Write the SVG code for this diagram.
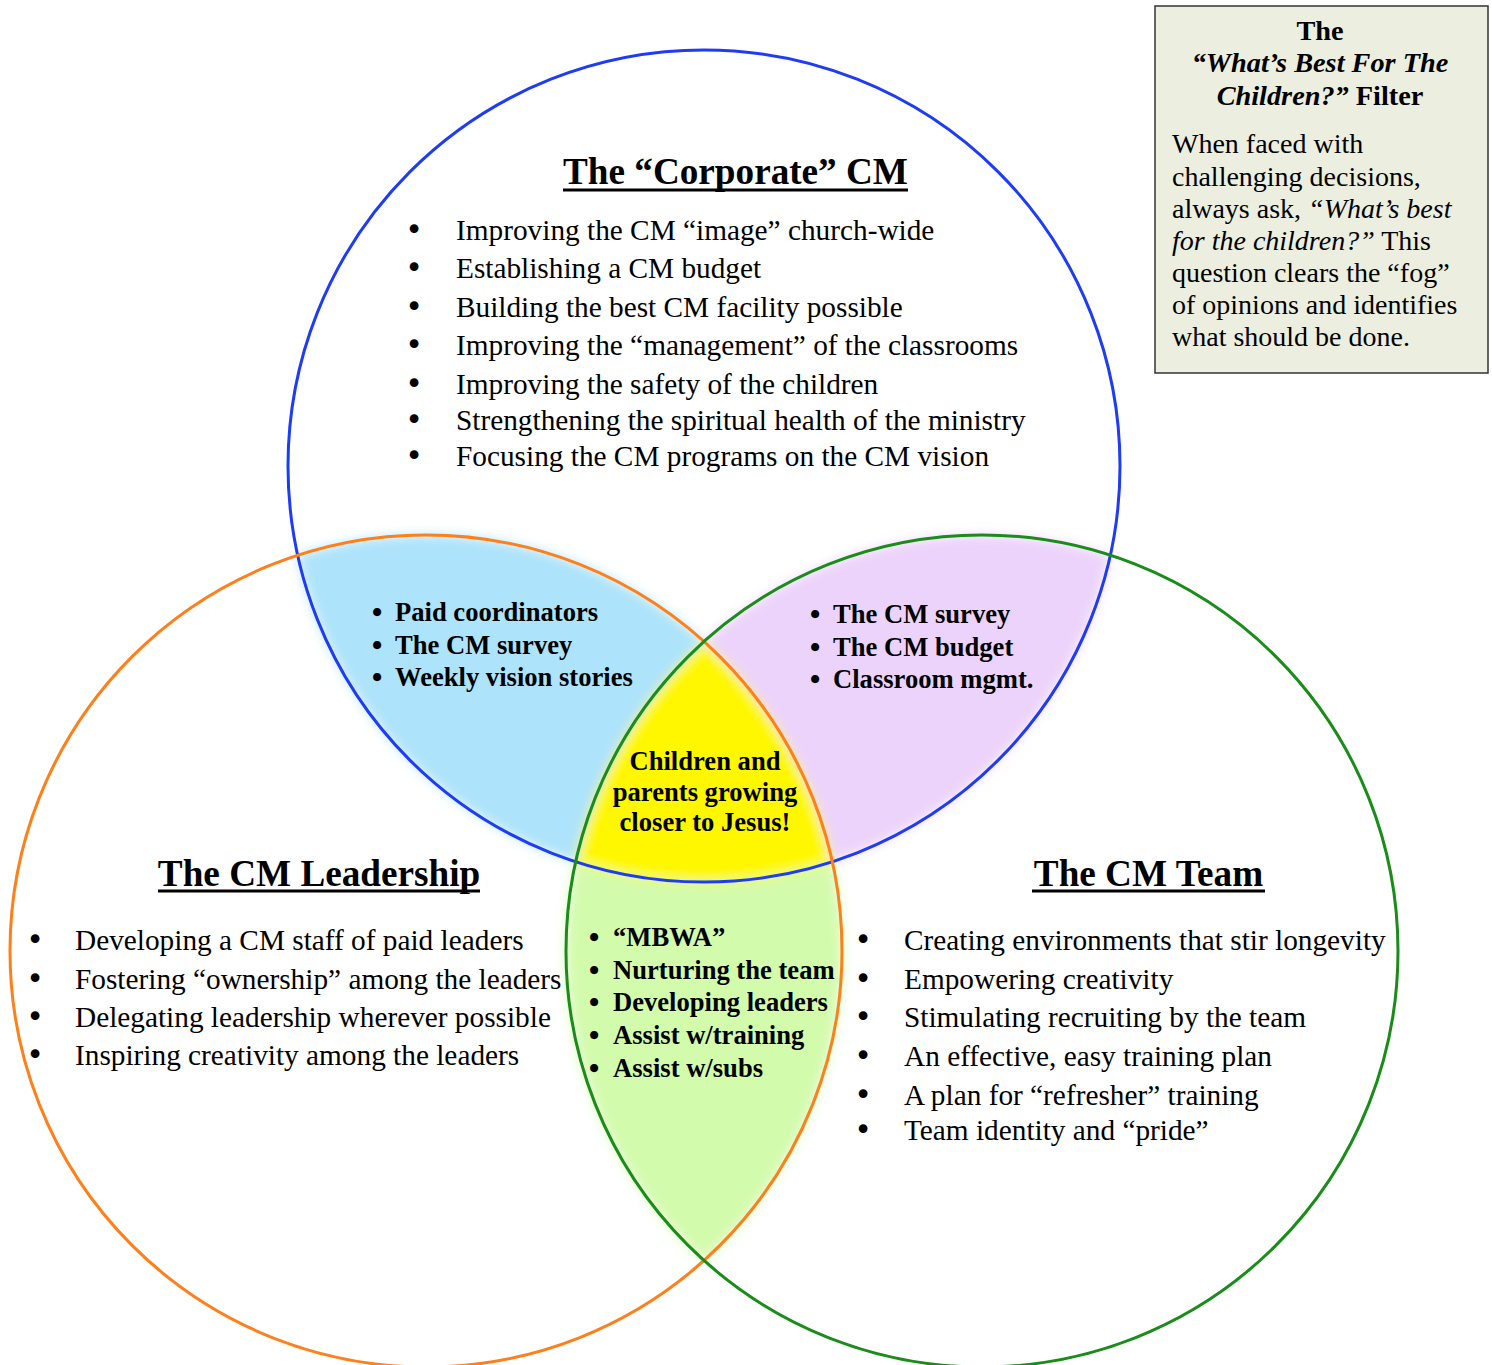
<svg xmlns="http://www.w3.org/2000/svg" width="1492" height="1365" viewBox="0 0 1492 1365">
<style>
.t{font-family:"Liberation Serif","Times New Roman",serif;fill:#000}
.h{font-size:37.2px;font-weight:bold}
.r{font-size:29.3px}
.b{font-size:26.6px;font-weight:bold}
.bl{font-family:"DejaVu Sans",sans-serif;font-size:30px}
.bb{font-family:"DejaVu Sans",sans-serif;font-size:23px;font-weight:bold}
.bt{font-size:28.3px;font-weight:bold}
.bd{font-size:28px}
.ul{stroke:#000;stroke-width:3}
.circ{fill:none;stroke-width:3}
</style>
<defs>
<filter id="soft" x="-10%" y="-10%" width="120%" height="120%">
<feGaussianBlur stdDeviation="6"/>
</filter>
</defs>
<rect width="1492" height="1365" fill="#fff"/>
<g id="regions" filter="url(#soft)">
<path id="blue-orange" fill="#ade3fb" d="M297.7 555.3 A416 416 0 0 1 704 641.5 A416 416 0 0 0 575.7 861.7 A416 416 0 0 1 297.7 555.3 Z"/>
<path id="blue-green" fill="#ecd3fb" d="M1110.3 555.3 A416 416 0 0 0 704 641.5 A416 416 0 0 1 832.3 861.7 A416 416 0 0 0 1110.3 555.3 Z"/>
<path id="center" fill="#fff700" d="M704 641.5 A416 416 0 0 0 575.7 861.7 A416 416 0 0 0 832.3 861.7 A416 416 0 0 0 704 641.5 Z"/>
<path id="orange-green" fill="#d3fbac" d="M575.7 861.7 A416 416 0 0 0 704 1260.5 A416 416 0 0 0 832.3 861.7 A416 416 0 0 1 575.7 861.7 Z"/>
</g>
<g id="circles">
<circle id="corporate-circle" class="circ" cx="704" cy="466" r="416" stroke="#1f3cf5"/>
<circle id="leadership-circle" class="circ" cx="426" cy="951" r="416" stroke="#ff7f1a"/>
<circle id="team-circle" class="circ" cx="982" cy="951" r="416" stroke="#1a8c1a"/>
</g>
<g id="corporate" class="t">
<text class="h" x="735.5" y="184" text-anchor="middle">The “Corporate” CM</text>
<line class="ul" x1="563" y1="190" x2="908" y2="190"/>
<g class="bl" text-anchor="middle">
<text x="414" y="240">•</text><text x="414" y="278">•</text><text x="414" y="317">•</text><text x="414" y="355">•</text><text x="414" y="394">•</text><text x="414" y="430">•</text><text x="414" y="466">•</text>
</g>
<g class="r">
<text x="456" y="240">Improving the CM “image” church-wide</text>
<text x="456" y="278">Establishing a CM budget</text>
<text x="456" y="317">Building the best CM facility possible</text>
<text x="456" y="355">Improving the “management” of the classrooms</text>
<text x="456" y="394">Improving the safety of the children</text>
<text x="456" y="430">Strengthening the spiritual health of the ministry</text>
<text x="456" y="466">Focusing the CM programs on the CM vision</text>
</g>
</g>
<g id="leadership" class="t">
<text class="h" x="319" y="886" text-anchor="middle">The CM Leadership</text>
<line class="ul" x1="158" y1="891" x2="480" y2="891"/>
<g class="bl" text-anchor="middle">
<text x="35" y="950">•</text><text x="35" y="989">•</text><text x="35" y="1027">•</text><text x="35" y="1065">•</text>
</g>
<g class="r">
<text x="75" y="950">Developing a CM staff of paid leaders</text>
<text x="75" y="989">Fostering “ownership” among the leaders</text>
<text x="75" y="1027">Delegating leadership wherever possible</text>
<text x="75" y="1065">Inspiring creativity among the leaders</text>
</g>
</g>
<g id="team" class="t">
<text class="h" x="1148.5" y="886" text-anchor="middle">The CM Team</text>
<line class="ul" x1="1032" y1="891" x2="1265" y2="891"/>
<g class="bl" text-anchor="middle">
<text x="863" y="950">•</text><text x="863" y="989">•</text><text x="863" y="1027">•</text><text x="863" y="1066">•</text><text x="863" y="1105">•</text><text x="863" y="1140">•</text>
</g>
<g class="r">
<text x="904" y="950">Creating environments that stir longevity</text>
<text x="904" y="989">Empowering creativity</text>
<text x="904" y="1027">Stimulating recruiting by the team</text>
<text x="904" y="1066">An effective, easy training plan</text>
<text x="904" y="1105">A plan for “refresher” training</text>
<text x="904" y="1140">Team identity and “pride”</text>
</g>
</g>
<g id="corporate-leadership" class="t">
<g class="bb" text-anchor="middle">
<text x="377" y="621">•</text><text x="377" y="654">•</text><text x="377" y="686">•</text>
</g>
<g class="b">
<text x="395" y="621">Paid coordinators</text>
<text x="395" y="654">The CM survey</text>
<text x="395" y="686">Weekly vision stories</text>
</g>
</g>
<g id="corporate-team" class="t">
<g class="bb" text-anchor="middle">
<text x="815" y="623">•</text><text x="815" y="656">•</text><text x="815" y="688">•</text>
</g>
<g class="b">
<text x="833" y="623">The CM survey</text>
<text x="833" y="656">The CM budget</text>
<text x="833" y="688">Classroom mgmt.</text>
</g>
</g>
<g id="center-text" class="t b" text-anchor="middle">
<text x="705" y="770">Children and</text>
<text x="705" y="801">parents growing</text>
<text x="705" y="831">closer to Jesus!</text>
</g>
<g id="leadership-team" class="t">
<g class="bb" text-anchor="middle">
<text x="594" y="946">•</text><text x="594" y="979">•</text><text x="594" y="1011">•</text><text x="594" y="1044">•</text><text x="594" y="1077">•</text>
</g>
<g class="b">
<text x="613" y="946">“MBWA”</text>
<text x="613" y="979">Nurturing the team</text>
<text x="613" y="1011">Developing leaders</text>
<text x="613" y="1044">Assist w/training</text>
<text x="613" y="1077">Assist w/subs</text>
</g>
</g>
<g id="filter-box" class="t">
<rect x="1155" y="6" width="333" height="367" fill="#ecefdf" stroke="#333" stroke-width="1.5"/>
<g class="bt" text-anchor="middle">
<text x="1320" y="40">The</text>
<text x="1320" y="72" font-style="italic">“What’s Best For The</text>
<text x="1320" y="105"><tspan font-style="italic">Children?”</tspan> Filter</text>
</g>
<g class="bd">
<text x="1172" y="153">When faced with</text>
<text x="1172" y="186">challenging decisions,</text>
<text x="1172" y="218">always ask, <tspan font-style="italic">“What’s best</tspan></text>
<text x="1172" y="250"><tspan font-style="italic">for the children?”</tspan> This</text>
<text x="1172" y="282">question clears the “fog”</text>
<text x="1172" y="314">of opinions and identifies</text>
<text x="1172" y="346">what should be done.</text>
</g>
</g>
</svg>
